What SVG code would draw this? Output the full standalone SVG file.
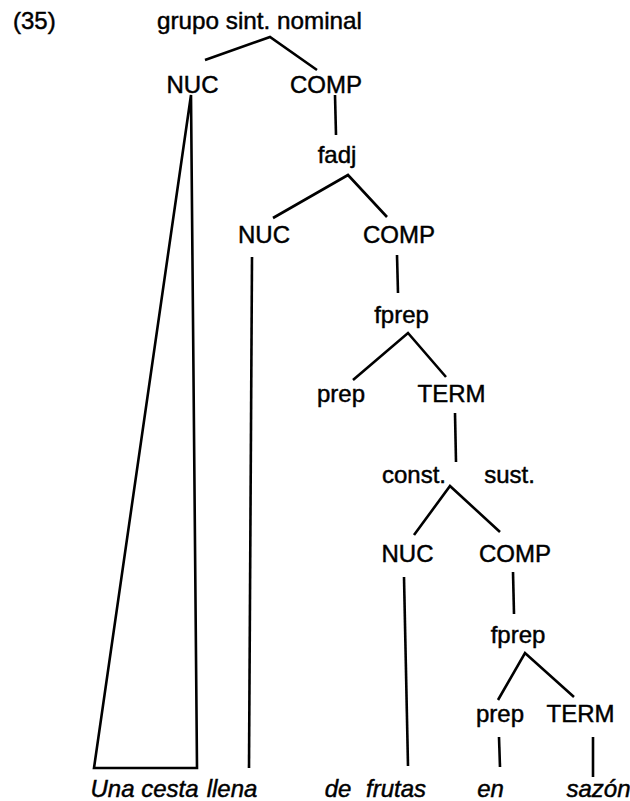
<svg xmlns="http://www.w3.org/2000/svg" width="630" height="801" viewBox="0 0 630 801">
<style>
text{font-family:"Liberation Sans",Arial,Helvetica,sans-serif;font-size:24px;fill:#000;stroke:#000;stroke-width:0.45;text-anchor:middle}
.w{font-style:italic}
.e{stroke:#000;stroke-width:2.6;fill:none;stroke-linecap:butt;stroke-linejoin:miter}
</style>
<rect width="630" height="801" fill="#fff"/>
<g id="num"><text x="13" y="29" style="text-anchor:start">(35)</text></g>
<g id="gsn"><text x="259.5" y="29" textLength="205" lengthAdjust="spacingAndGlyphs">grupo sint. nominal</text></g>
<g id="nuc1"><text x="192.5" y="93">NUC</text></g>
<g id="comp1"><text x="326" y="93">COMP</text></g>
<g id="fadj"><text x="337" y="163">fadj</text></g>
<g id="nuc2"><text x="264" y="243">NUC</text></g>
<g id="comp2"><text x="399" y="243">COMP</text></g>
<g id="fprep1"><text x="401.5" y="323">fprep</text></g>
<g id="prep1"><text x="341" y="402">prep</text></g>
<g id="term1"><text x="451.5" y="402">TERM</text></g>
<g id="constsust"><text x="414" y="483">const.</text><text x="509.5" y="483">sust.</text></g>
<g id="nuc3"><text x="407.5" y="562">NUC</text></g>
<g id="comp3"><text x="515" y="562">COMP</text></g>
<g id="fprep2"><text x="518" y="643">fprep</text></g>
<g id="prep2"><text x="500" y="722">prep</text></g>
<g id="term2"><text x="580.5" y="722">TERM</text></g>
<g id="w-unacesta"><text class="w" x="144.5" y="797">Una cesta</text></g>
<g id="w-llena"><text class="w" x="232" y="797">llena</text></g>
<g id="w-de"><text class="w" x="338" y="797">de</text></g>
<g id="w-frutas"><text class="w" x="396" y="797">frutas</text></g>
<g id="w-en"><text class="w" x="490.5" y="797">en</text></g>
<g id="w-sazon"><text class="w" x="598.5" y="797">sazón</text></g>
<g id="connectors" class="e">
<path d="M205,60 L270,37 L317,70"/>
<path d="M94,768 L191,95 L197,768 Z"/>
<path d="M335,95 L336,135"/>
<path d="M273,218 L348,175 L387,217"/>
<path d="M252,257 L249,768"/>
<path d="M397,255 L398,293"/>
<path d="M353,380 L408,333 L446,377"/>
<path d="M455,413 L456,462"/>
<path d="M414,535 L450,486 L500,532"/>
<path d="M404,577 L408,766"/>
<path d="M513,572 L514,614"/>
<path d="M498,700 L525,653 L574,697"/>
<path d="M499,737 L500,767"/>
<path d="M593,737 L593,777"/>
</g>
</svg>
